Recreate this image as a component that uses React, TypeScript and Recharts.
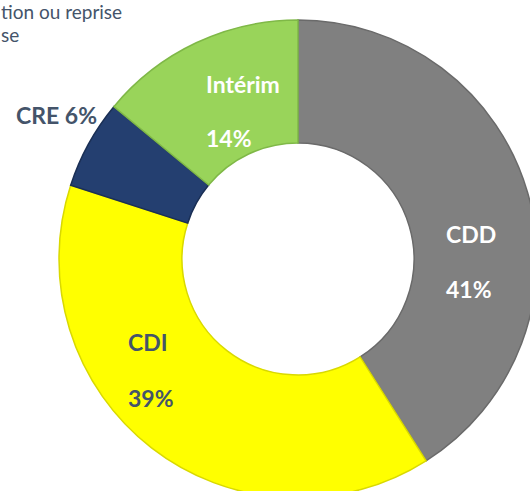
import { Cell, Pie, PieChart } from "recharts";

const categories = ["CDD", "CDI", "CRE", "Intérim"];
const shares = [41, 39, 6, 14];
// the note at top-left is cropped in the source picture
const topNoteLines = ["tion ou reprise", "se"];

const fills = ["#808080", "#ffff00", "#243f70", "#99d45a"];
const strokes = ["#6a6a6a", "#d9d900", "#1a2f55", "#7fb847"];

const chartData = categories.map((name, i) => ({ name, value: shares[i] }));

// label placement relative to pie centre (x start, two baselines)
const labelLayout = [
  { dx: 148, y1: -16, y2: 39, fill: "#ffffff", split: true },
  { dx: -170, y1: 92, y2: 148, fill: "#44546a", split: true },
  { dx: -282, y1: -135, y2: 0, fill: "#44546a", split: false },
  { dx: -92, y1: -166, y2: -112, fill: "#ffffff", split: true },
];

const font = "Lato, 'Open Sans', sans-serif";

function renderLabel(props: any) {
  const { cx, cy, index } = props;
  const l = labelLayout[index];
  const name = categories[index];
  const pct = `${shares[index]}%`;
  if (!l.split) {
    return (
      <text x={cx + l.dx} y={cy + l.y1} fill={l.fill} fontFamily={font} fontWeight={700} fontSize={23}>
        {`${name} ${pct}`}
      </text>
    );
  }
  return (
    <g>
      <text x={cx + l.dx} y={cy + l.y1} fill={l.fill} fontFamily={font} fontWeight={700} fontSize={23}>
        {name}
      </text>
      <text x={cx + l.dx} y={cy + l.y2} fill={l.fill} fontFamily={font} fontWeight={700} fontSize={23}>
        {pct}
      </text>
    </g>
  );
}

export default function App() {
  return (
    <div style={{ position: "absolute", left: 0, top: 0, width: 530, height: 491, background: "#fff", overflow: "hidden" }}>
      <svg width={530} height={491} style={{ position: "absolute", left: 0, top: 0 }}>
        <text x={1} y={19} fill="#44546a" fontFamily={font} fontSize={19}>
          {topNoteLines[0]}
        </text>
        <text x={1} y={42} fill="#44546a" fontFamily={font} fontSize={19}>
          {topNoteLines[1]}
        </text>
      </svg>
      <div style={{ position: "absolute", left: 0, top: 0 }}>
        <PieChart width={530} height={491}>
          <Pie
            data={chartData}
            dataKey="value"
            nameKey="name"
            cx={293}
            cy={254}
            innerRadius={116}
            outerRadius={239}
            startAngle={90}
            endAngle={-270}
            label={renderLabel}
            labelLine={false}
            isAnimationActive={false}
          >
            {chartData.map((d, i) => (
              <Cell key={d.name} fill={fills[i]} stroke={strokes[i]} strokeWidth={1.5} />
            ))}
          </Pie>
        </PieChart>
      </div>
    </div>
  );
}
